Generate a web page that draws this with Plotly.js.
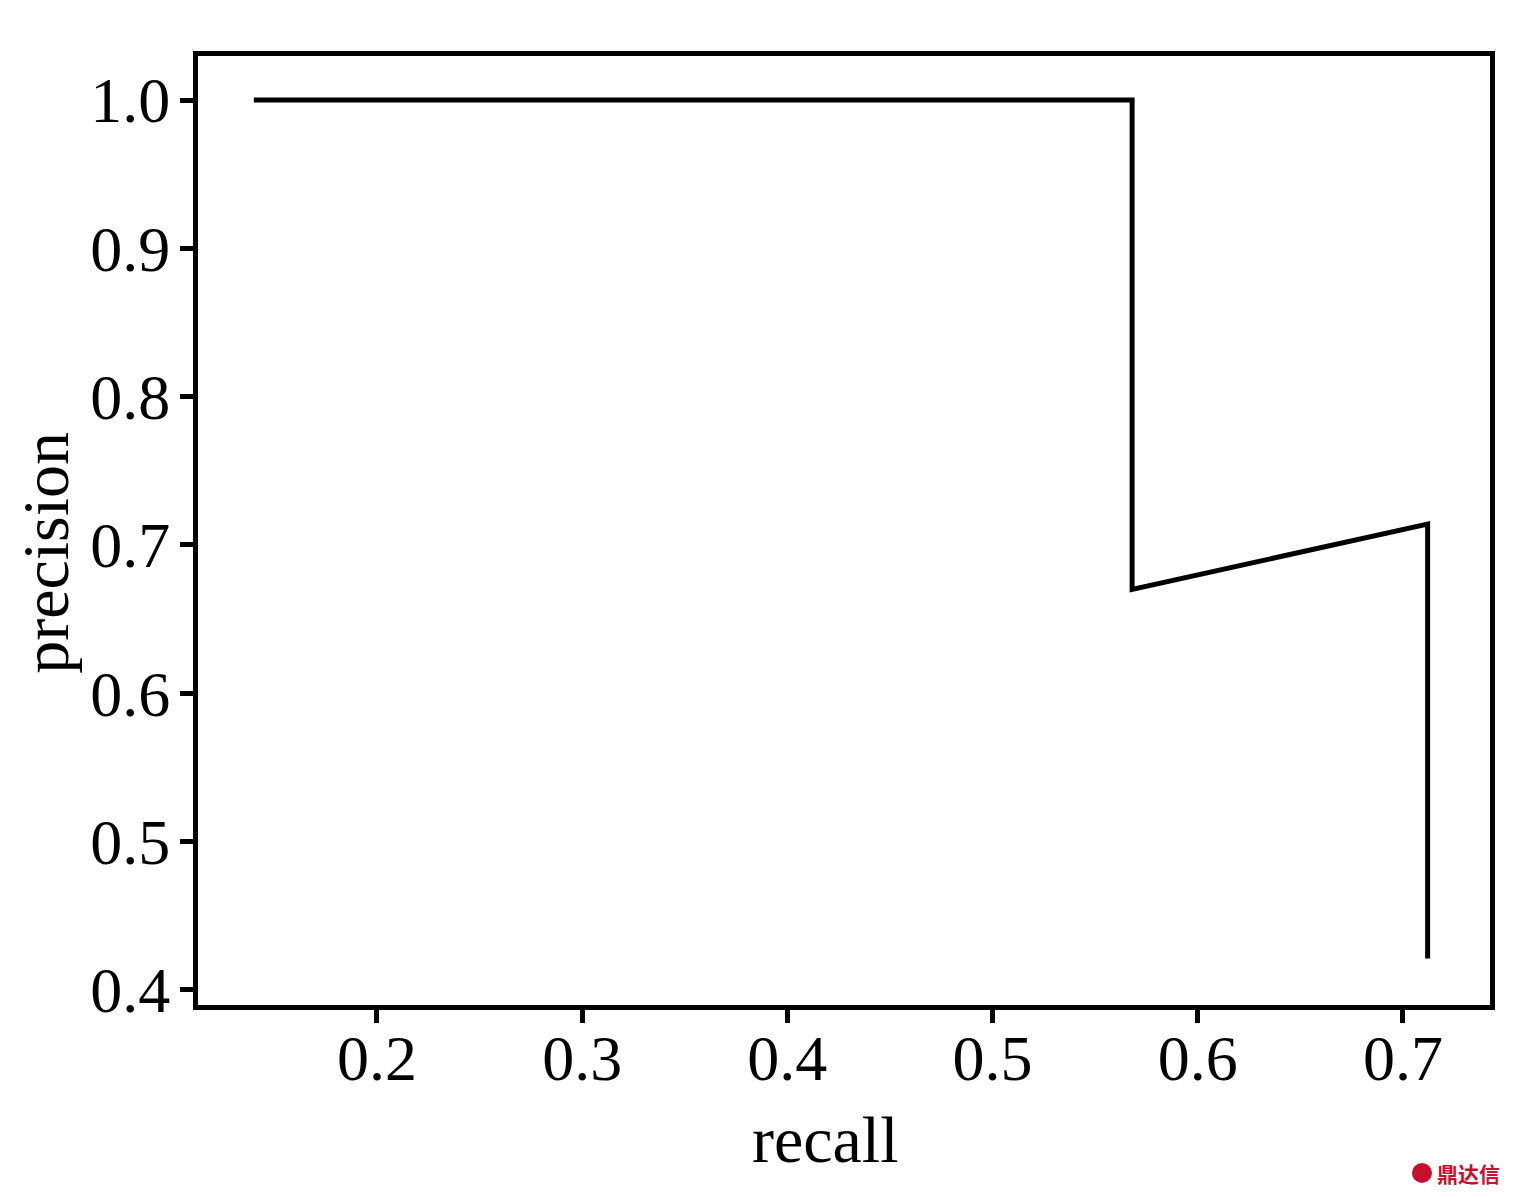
<!DOCTYPE html>
<html>
<head>
<meta charset="utf-8">
<script src="https://cdn.plot.ly/plotly-3.0.1.min.js"></script>
<style>html,body{margin:0;padding:0;background:#fff;}#chart{width:1514px;height:1197px;}</style>
</head>
<body>
<div id="chart"></div>
<script>
const recall = [0.140, 0.568, 0.568, 0.712, 0.712];
const precision = [1.0, 1.0, 0.670, 0.714, 0.421];
const xTicks = [0.2, 0.3, 0.4, 0.5, 0.6, 0.7];
const yTicks = [0.4, 0.5, 0.6, 0.7, 0.8, 0.9, 1.0];

const serif = '"Liberation Serif", "DejaVu Serif", serif';

const trace = {
  x: recall, y: precision, type: 'scatter', mode: 'lines',
  line: {color: '#000', width: 5}, showlegend: false, hoverinfo: 'skip'
};

const axisCommon = {
  showgrid: false, zeroline: false, showline: true, linecolor: '#000', linewidth: 5,
  mirror: true, ticks: 'outside', ticklen: 13, tickwidth: 5, tickcolor: '#000',
  tickfont: {family: serif, size: 64, color: '#000'}
};

const layout = {
  width: 1514, height: 1197,
  margin: {l: 198, r: 24, t: 56, b: 192},
  paper_bgcolor: '#fff', plot_bgcolor: '#fff',
  xaxis: Object.assign({}, axisCommon, {
    range: [0.1128, 0.7424], tickvals: xTicks, ticktext: xTicks.map(v => v.toFixed(1)),
    ticklabelstandoff: -20
  }),
  yaxis: Object.assign({}, axisCommon, {
    range: [0.3897, 1.0297], tickvals: yTicks, ticktext: yTicks.map(v => v.toFixed(1)),
    ticklabelstandoff: -3
  }),
  shapes: [
    {type: 'circle', xref: 'paper', yref: 'paper', x0: 0.9396, x1: 0.9551, y0: -0.1876, y1: -0.1665,
     fillcolor: '#c8102e', line: {width: 0}}
  ],
  annotations: [
    {text: 'recall', xref: 'paper', yref: 'paper', x: 0.486, y: -0.142, showarrow: false,
     xanchor: 'center', yanchor: 'middle', font: {family: serif, size: 66, color: '#000'}},
    {text: 'precision', xref: 'paper', yref: 'paper', x: -0.118, y: 0.476, showarrow: false,
     textangle: -90, xanchor: 'center', yanchor: 'middle', font: {family: serif, size: 66, color: '#000'}},
    {text: '<b>鼎达信</b>', xref: 'paper', yref: 'paper', x: 1.0093, y: -0.177, showarrow: false,
     xanchor: 'right', yanchor: 'middle', font: {family: '"Noto Sans CJK SC", sans-serif', size: 21, color: '#c8102e'}}
  ]
};

Plotly.newPlot('chart', [trace], layout, {displayModeBar: false, staticPlot: true});
</script>
</body>
</html>
